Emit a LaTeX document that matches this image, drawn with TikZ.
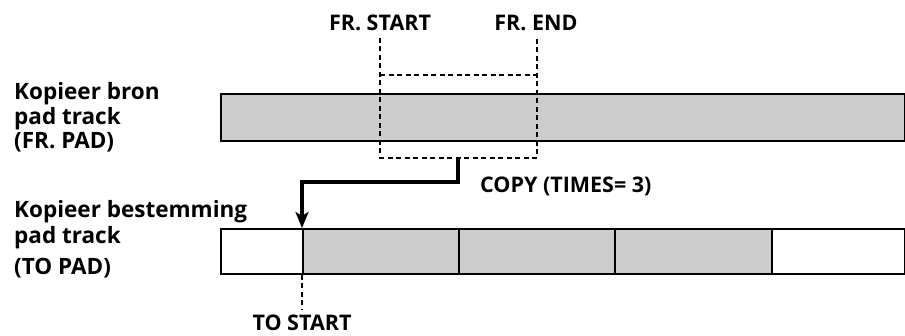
\documentclass[tikz,border=0pt]{standalone}
\usepackage{fontspec}
\setmainfont{Open Sans}
\usetikzlibrary{arrows.meta}
\begin{document}
\begin{tikzpicture}[x=1pt,y=-1pt,
  lbl/.style={font=\bfseries\fontsize{21.5}{26}\selectfont, inner sep=0pt},
  side/.style={lbl, font=\bfseries\fontsize{22.5}{27}\selectfont, anchor=base west},
  bar/.style={draw, line width=2pt, inner sep=0pt, anchor=north west},
  grey/.style={fill=black!20},
  dsh/.style={line width=2.2pt, dash pattern=on 5pt off 3.5pt},
  thick line/.style={line width=3.2pt}
]
\useasboundingbox (0,0) rectangle (905,336);
% top bar
\node[bar,grey,minimum width=684pt,minimum height=47pt] (src) at (220,93) {};
% bottom bar segments
\node[bar,minimum width=82pt,minimum height=45pt] (w0) at (220,228) {};
\node[bar,grey,minimum width=156pt,minimum height=45pt] (c1) at (302,228) {};
\node[bar,grey,minimum width=156pt,minimum height=45pt] (c2) at (458,228) {};
\node[bar,grey,minimum width=157pt,minimum height=45pt] (c3) at (614,228) {};
\node[bar,minimum width=133pt,minimum height=45pt] (w4) at (771,228) {};
% labels
\node[side] (l1) at (14,100) {Kopieer bron};
\node[side] (l2) at (14,124.5) {pad track};
\node[side] (l3) at (14,149) {(FR. PAD)};
\node[side] (m1) at (14,218) {Kopieer bestemming};
\node[side] (m2) at (14,244) {pad track};
\node[side] (m3) at (14,275) {(TO PAD)};
\node[lbl,anchor=base] (frs) at (380,31) {FR. START};
\node[lbl,anchor=base] (fre) at (536,31) {FR. END};
\node[lbl,anchor=base west] (copy) at (480,193) {COPY (TIMES= 3)};
\node[lbl,anchor=base] (tos) at (302,331) {TO START};
% dashed selection
\coordinate (s1) at (380,38);
\coordinate (s2) at (380,158);
\coordinate (e1) at (537,38);
\coordinate (e2) at (537,158);
\coordinate (h1) at (380,75);
\coordinate (h2) at (537,75);
\draw[dsh] (s1) -- (s2) -- (e2) -- (e1);
\draw[dsh] (h1) -- (h2);
% copy arrow
\coordinate (cp) at (458,158);
\draw[thick line,-{Stealth[length=16pt,width=13pt,inset=4pt]}] (cp) -- (458,182) -| (c1.north west);
% to start
\coordinate (ts) at (302,310);
\draw[dsh] (c1.south west) -- (ts);
\end{tikzpicture}
\end{document}
